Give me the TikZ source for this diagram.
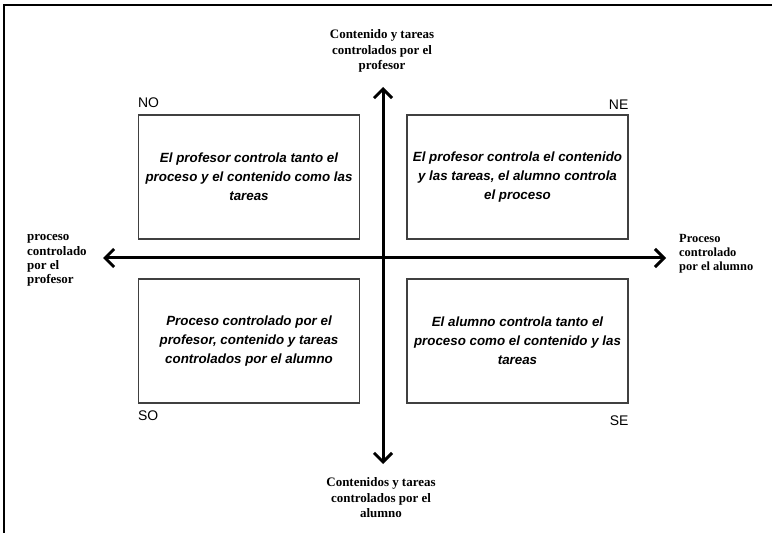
\documentclass[tikz,border=0pt]{standalone}
\usepackage{fontspec}
\setmainfont{Liberation Serif}
\setsansfont{Liberation Sans}
\usetikzlibrary{arrows.meta}

\begin{document}
\begin{tikzpicture}[x=1bp,y=-1bp,
  cuadro/.style={draw=black!75,line width=1.1bp,minimum width=221bp,minimum height=124bp,
    align=center,inner sep=0pt,font=\sffamily\bfseries\itshape\fontsize{13.4}{19}\selectfont},
  rumbo/.style={inner sep=0pt,font=\sffamily\fontsize{14}{16}\selectfont},
  rotulo/.style={inner sep=0pt,font=\bfseries\fontsize{13}{15.5}\selectfont},
  eje/.style={line width=3bp,{Straight Barb[length=9bp,width=18bp]}-{Straight Barb[length=9bp,width=18bp]}}]
\useasboundingbox (0,0) rectangle (772,533);
% marco de la figura
\coordinate (mA) at (4,533);
\coordinate (mB) at (4,5);
\coordinate (mC) at (772,5);
\draw[line width=1.5bp] (mA) -- (mB) -- (mC);
% cuadrantes
\node[cuadro] (no) at (249,177) {El profesor controla tanto el\\proceso y el contenido como las\\tareas};
\node[cuadro] (ne) at (517.5,177) {El profesor controla el contenido\\y las tareas, el alumno controla\\el proceso};
\node[cuadro] (so) at (249,341) {Proceso controlado por el\\profesor, contenido y tareas\\controlados por el alumno};
\node[cuadro] (se) at (517.5,341) {El alumno controla tanto el\\proceso como el contenido y las\\tareas};
\node[rumbo,anchor=south west] (lno) at ([yshift=7bp]no.north west) {NO};
\node[rumbo,anchor=south east] (lne) at ([yshift=5bp]ne.north east) {NE};
\node[rumbo,anchor=north west] (lso) at ([yshift=-7bp]so.south west) {SO};
\node[rumbo,anchor=north east] (lse) at ([yshift=-12bp]se.south east) {SE};
% ejes
\coordinate (arriba) at (383,87);
\coordinate (abajo) at (383,464);
\coordinate (izq) at (103,258);
\coordinate (der) at (666,258);
\draw[eje] (abajo) -- (arriba);
\draw[eje] (izq) -- (der);
\node[rotulo,align=center] (tarriba) at (382,51) {Contenido y tareas\\controlados por el\\profesor};
\node[rotulo,align=center] (tabajo) at (381,498) {Contenidos y tareas\\controlados por el\\alumno};
\node[rotulo,align=left,anchor=west,font=\bfseries\fontsize{13}{14.3}\selectfont] (tizq) at (27,260.5) {proceso\\controlado\\por el\\profesor};
\node[rotulo,align=left,anchor=west,font=\bfseries\fontsize{12.5}{14}\selectfont] (tder) at (679,254) {Proceso\\controlado\\por el alumno};
\end{tikzpicture}
\end{document}
